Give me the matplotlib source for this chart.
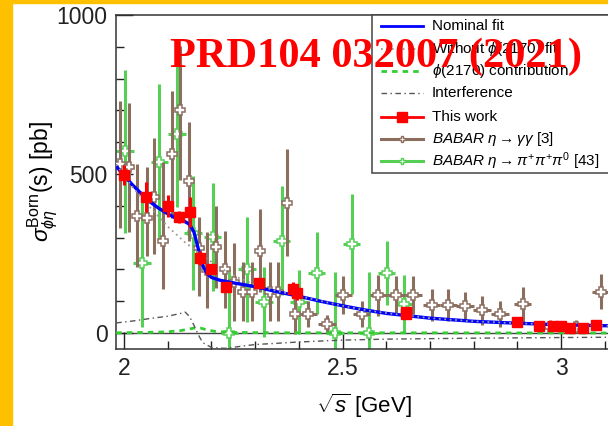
import matplotlib
matplotlib.use("Agg")
import matplotlib.pyplot as plt
from matplotlib.lines import Line2D
from matplotlib.patches import Rectangle

plt.rcParams['font.family'] = ['Liberation Sans', 'DejaVu Sans']
plt.rcParams['mathtext.fontset'] = 'custom'
plt.rcParams['mathtext.rm'] = 'Liberation Sans'
plt.rcParams['mathtext.it'] = 'Liberation Sans:italic'
plt.rcParams['mathtext.sf'] = 'Liberation Sans'
plt.rcParams['mathtext.bf'] = 'Liberation Sans:bold'

# ---------------- data ----------------
# This work (BESIII)
E_red = [2.000, 2.050, 2.100, 2.125, 2.150, 2.175, 2.200, 2.2324, 2.3094, 2.3864,
         2.396, 2.6444, 2.6464, 2.900, 2.950, 2.981, 3.000, 3.020, 3.050, 3.080]
sig_red = [497, 428, 399, 365, 381, 236, 201, 145, 157, 140,
           125, 66, 60, 35, 22, 22, 22, 16, 16, 25]
err_red = [31, 47, 35, 19, 47, 21, 16, 10, 15, 20,
           20, 8, 8, 8, 8, 6, 6, 8, 6, 6]

# BABAR eta -> gamma gamma
E_bb = [1.991, 2.012, 2.029, 2.052, 2.069, 2.090, 2.109, 2.128, 2.149, 2.172,
        2.190, 2.211, 2.231, 2.252, 2.272, 2.292, 2.311, 2.333, 2.353, 2.372,
        2.391, 2.422, 2.464, 2.502, 2.544, 2.582, 2.622, 2.662, 2.704, 2.742,
        2.780, 2.819, 2.860, 2.912, 2.975, 3.035, 3.091]
sig_bb = [531, 522, 368, 362, 428, 289, 562, 701, 479, 266,
          198, 271, 200, 160, 130, 130, 259, 130, 130, 408,
          60, 60, 28, 119, 60, 119, 119, 119, 88, 88,
          85, 72, 60, 90, 20, 20, 130]
lo_bb = [200, 205, 160, 120, 180, 150, 200, 220, 190, 150,
         120, 130, 122, 122, 92, 92, 130, 92, 92, 165,
         63, 40, 28, 60, 40, 65, 60, 60, 50, 50,
         45, 45, 40, 55, 20, 20, 55]
hi_bb = [200, 200, 165, 160, 185, 250, 200, 200, 185, 100,
         120, 130, 122, 122, 92, 92, 130, 92, 92, 170,
         63, 40, 28, 60, 40, 65, 60, 60, 50, 50,
         45, 45, 40, 55, 20, 20, 55]
xerr_bb = [0.01] * 21 + [0.02] * 16

# BABAR eta -> pi pi pi0
E_bg = [2.002, 2.041, 2.081, 2.121, 2.158, 2.203, 2.241, 2.281, 2.320, 2.361,
        2.400, 2.441, 2.483, 2.521, 2.561, 2.601, 2.641]
sig_bg = [571, 220, 539, 625, 314, 302, 0, 201, 99, 291,
          98, 189, 0, 280, 0, 189, 91]
err_bg = [255, 200, 245, 230, 180, 170, 204, 165, 110, 170,
          100, 130, 193, 157, 193, 100, 91]
xerr_bg = [0.02] * 17

# Fit curves
E_nom = [1.982, 2.00, 2.02, 2.04, 2.06, 2.08, 2.10, 2.12, 2.14, 2.15, 2.16, 2.17,
         2.18, 2.19, 2.20, 2.22, 2.25, 2.30, 2.35, 2.40, 2.45, 2.50, 2.55, 2.60,
         2.70, 2.80, 2.90, 3.00, 3.11]
sig_nom = [525, 495, 465, 438, 412, 392, 375, 360, 350, 342, 318, 265,
           212, 188, 175, 166, 158, 146, 130, 116, 100, 86, 73, 62,
           47, 37, 31, 26, 23]

E_wo = [1.982, 2.02, 2.06, 2.10, 2.14, 2.18, 2.22, 2.26, 2.30, 2.35, 2.40, 2.45,
        2.50, 2.55, 2.60, 2.70, 2.80, 2.90, 3.00, 3.11]
sig_wo = [530, 458, 395, 335, 285, 243, 205, 175, 152, 132, 117, 101,
          86, 73, 63, 47, 37, 31, 26, 23]

E_phi = [1.982, 2.05, 2.10, 2.13, 2.15, 2.165, 2.175, 2.19, 2.21, 2.25, 2.35, 3.11]
sig_phi = [1, 2, 4, 8, 13, 17, 16, 10, 5, 2, 1, 0.3]

E_int = [1.982, 2.02, 2.06, 2.10, 2.13, 2.14, 2.15, 2.16, 2.17, 2.18, 2.20, 2.23,
         2.30, 2.40, 2.50, 2.60, 2.80, 3.00, 3.11]
sig_int = [32, 38, 46, 53, 62, 66, 52, 25, -5, -30, -45, -48,
           -36, -28, -22, -19, -16, -14, -13]

legend_labels = [
    "Nominal fit",
    r"Without $\phi$(2170) fit",
    r"$\phi$(2170) contribution",
    "Interference",
    "This work",
    r"$BABAR$ $\eta\rightarrow\gamma\gamma$ [3]",
    r"$BABAR$ $\eta\rightarrow\pi^{+}\pi^{+}\pi^{0}$ [43]",
]

# ---------------- figure ----------------
W, H = 608, 426
fig = plt.figure(figsize=(W / 100, H / 100), dpi=100)
fig.patch.set_facecolor('white')
fig.add_artist(Rectangle((0, 0), 12 / W, 1, transform=fig.transFigure,
                         color='#FFC000', zorder=0))
fig.add_artist(Rectangle((0, 1 - 3 / H), 1, 3 / H, transform=fig.transFigure,
                         color='#FFC000', zorder=0))

L, R, T, B = 116, 612, 15, 349
ax = fig.add_axes([L / W, 1 - B / H, (R - L) / W, (B - T) / H])
ax.set_xlim(2 + (L - 124) / 437, 2 + (R - 124) / 437)
ax.set_ylim(-50, 1000)

brown = '#8c6e5f'
green = '#55d055'
blue = '#0000ff'
gray_wo = '#9a9a9a'
green_phi = '#33cc33'
gray_int = '#555555'
red = '#ff0000'

ls_phi = (0, (2, 1.8))
ls_int = (0, (4, 2.5, 1, 2.5))
ls_wo = (0, (1, 2))

ax.axhline(0, color='#444444', lw=1.0, zorder=1)

ax.errorbar(E_bg, sig_bg, yerr=err_bg, xerr=xerr_bg, fmt='P', color=green,
            ecolor=green, elinewidth=2.2, capsize=0, ms=7, mfc='white',
            mec=green, mew=1.1, zorder=2)
ax.errorbar(E_bb, sig_bb, yerr=[lo_bb, hi_bb], xerr=xerr_bb, fmt='P',
            color=brown, ecolor=brown, elinewidth=2.2, capsize=0, ms=7,
            mfc='white', mec=brown, mew=1.1, zorder=3)

ax.plot(E_phi, sig_phi, color=green_phi, ls=ls_phi, lw=2.0, zorder=4)
ax.plot(E_int, sig_int, color=gray_int, ls=ls_int, lw=1.0, zorder=4)
ax.plot(E_nom, sig_nom, color=blue, lw=2.4, zorder=5)
ax.plot(E_wo, sig_wo, color=gray_wo, ls=ls_wo, lw=1.3, zorder=6)

ax.errorbar(E_red, sig_red, yerr=err_red, fmt='s', color=red,
            ecolor=red, elinewidth=2.2, capsize=0, ms=7.5, zorder=7)

# axes styling
for s in ax.spines.values():
    s.set_color('#333333')
    s.set_linewidth(1.1)
ax.set_xticks([2, 2.5, 3])
ax.set_xticklabels(['2', '2.5', '3'])
ax.set_xticks([2.1, 2.2, 2.3, 2.4, 2.6, 2.7, 2.8, 2.9, 3.1], minor=True)
ax.set_yticks([0, 500, 1000])
ax.set_yticks([100, 200, 300, 400, 600, 700, 800, 900], minor=True)
ax.tick_params(which='major', direction='in', length=12, width=1.0,
               labelsize=16.5, pad=6, colors='#222222')
ax.tick_params(which='minor', direction='in', length=6, width=1.0,
               colors='#222222')

ax.set_ylabel(r"$\sigma^{\mathrm{Born}}_{\phi\eta}$(s) [pb]", fontsize=16.5)
ax.yaxis.set_label_coords(-0.112, 0.5)
ax.set_xlabel(r"$\sqrt{s}$ [GeV]", fontsize=16)
ax.xaxis.set_label_coords(0.5, -0.128)

# ---------------- legend (drawn as a fixed-row box) ----------------
def fx(px):
    return px / W

def fy(py):
    return 1 - py / H

frame = Rectangle((fx(372), fy(173)), fx(612) - fx(372), fy(15) - fy(173),
                  transform=fig.transFigure, facecolor='white',
                  edgecolor='#444444', lw=1.1, zorder=8)
fig.add_artist(frame)
row_y = [26, 49, 71, 93, 117, 139, 161]
styles = [
    dict(color=blue, lw=2),
    dict(color=gray_wo, ls=ls_wo, lw=1.3),
    dict(color=green_phi, ls=ls_phi, lw=2),
    dict(color=gray_int, ls=ls_int, lw=1),
    dict(color=red, lw=2, marker='s', ms=7, markevery=[1]),
    dict(color=brown, lw=2.2, marker='P', ms=5, mfc='white', mec=brown,
         markevery=[1]),
    dict(color=green, lw=2.2, marker='P', ms=5, mfc='white', mec=green,
         markevery=[1]),
]
for yy, st, lab in zip(row_y, styles, legend_labels):
    fig.add_artist(Line2D([fx(381), fx(402), fx(423)], [fy(yy)] * 3,
                          transform=fig.transFigure, zorder=9, **st))
    fig.text(fx(432), fy(yy), lab, fontsize=11, ha='left', va='center',
             zorder=9)

fig.text(376 / W, 1 - 67 / H, "PRD104 032007 (2021)", color=red,
         fontsize=30.5, fontweight='bold', family='Liberation Serif',
         ha='center', va='baseline', zorder=10)

fig.savefig('out.png', dpi=100)
